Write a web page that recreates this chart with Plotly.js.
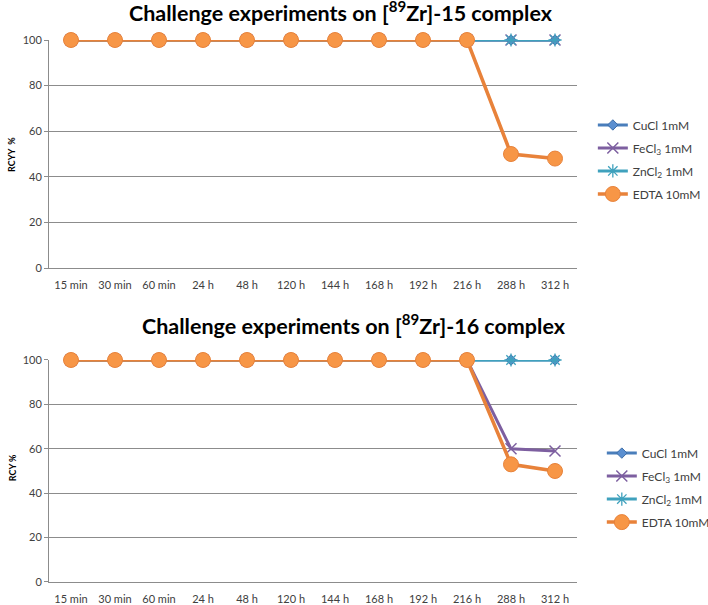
<!DOCTYPE html>
<html>
<head>
<meta charset="utf-8">
<script src="https://cdn.plot.ly/plotly-3.0.1.min.js"></script>
<style>
  html, body { margin: 0; padding: 0; background: #fff; }
  #chart { width: 708px; height: 605px; }
</style>
</head>
<body>
<div id="chart"></div>
<script>
// Sampling times shared by both panels
const timepoints = ['15 min', '30 min', '60 min', '24 h', '48 h', '120 h', '144 h', '168 h', '192 h', '216 h', '288 h', '312 h'];

// Series names
const seriesNames = ['CuCl 1mM', 'FeCl<sub>3</sub> 1mM', 'ZnCl<sub>2</sub> 1mM', 'EDTA 10mM'];

// [89Zr]-15 complex: radiochemical yield (%)
const zr15_CuCl  = [100, 100, 100, 100, 100, 100, 100, 100, 100, 100, 100, 100];
const zr15_FeCl3 = [100, 100, 100, 100, 100, 100, 100, 100, 100, 100, 100, 100];
const zr15_ZnCl2 = [100, 100, 100, 100, 100, 100, 100, 100, 100, 100, 100, 100];
const zr15_EDTA  = [100, 100, 100, 100, 100, 100, 100, 100, 100, 100, 50, 48];

// [89Zr]-16 complex: radiochemical yield (%)
const zr16_CuCl  = [100, 100, 100, 100, 100, 100, 100, 100, 100, 100, 100, 100];
const zr16_FeCl3 = [100, 100, 100, 100, 100, 100, 100, 100, 100, 100, 60, 59];
const zr16_ZnCl2 = [100, 100, 100, 100, 100, 100, 100, 100, 100, 100, 100, 100];
const zr16_EDTA  = [100, 100, 100, 100, 100, 100, 100, 100, 100, 100, 53, 50];

const FONT = 'Lato, "Open Sans", sans-serif';

// Per-series styling (line colour, marker)
const styles = [
  { line: '#4A7EBB', marker: { symbol: 'diamond', size: 8, color: '#5B8FD0', line: { color: '#3C6DA8', width: 1 } } },
  { line: '#7D5FA0', marker: { symbol: 'x-thin', size: 11, color: '#7D5FA0', line: { color: '#7D5FA0', width: 1.5 } } },
  { line: '#3FA1BD', marker: { symbol: 'asterisk', size: 11, color: '#3FA1BD', line: { color: '#3FA1BD', width: 1.3 } } },
  { line: '#E8823A', marker: { symbol: 'circle', size: 15, color: '#F79646', line: { color: '#E8823A', width: 1 } } }
];

function makeTraces(seriesList, xa, ya, legendName) {
  return seriesList.map((vals, i) => ({
    type: 'scatter',
    mode: 'lines+markers',
    x: timepoints,
    y: vals,
    name: seriesNames[i],
    xaxis: xa,
    yaxis: ya,
    legend: legendName,
    legendgroup: legendName + '-' + i,
    cliponaxis: false,
    line: { color: styles[i].line, width: i === 3 ? 3.5 : 3 },
    marker: styles[i].marker
  }));
}

const traces = [
  ...makeTraces([zr15_CuCl, zr15_FeCl3, zr15_ZnCl2, zr15_EDTA], 'x', 'y', 'legend'),
  ...makeTraces([zr16_CuCl, zr16_FeCl3, zr16_ZnCl2, zr16_EDTA], 'x2', 'y2', 'legend2')
];

const xCommon = {
  type: 'category',
  categoryorder: 'array',
  categoryarray: timepoints,
  range: [-0.5, timepoints.length - 0.5],
  showgrid: false,
  showline: true,
  linecolor: '#8c8c8c',
  linewidth: 1,
  ticks: 'outside',
  ticklen: 7,
  tickcolor: 'rgba(0,0,0,0)',
  tickfont: { family: FONT, size: 11, color: '#404040' },
  zeroline: false,
  automargin: false,
  fixedrange: true
};

const yCommon = {
  range: [0, 100],
  dtick: 20,
  showgrid: true,
  gridcolor: '#8c8c8c',
  gridwidth: 1,
  showline: true,
  linecolor: '#8c8c8c',
  linewidth: 1,
  ticks: 'outside',
  ticklen: 4,
  tickcolor: '#8c8c8c',
  tickfont: { family: FONT, size: 11, color: '#404040' },
  zeroline: false,
  automargin: false,
  fixedrange: true
};

const legendCommon = {
  font: { family: FONT, size: 12, color: '#404040' },
  bgcolor: 'rgba(0,0,0,0)',
  borderwidth: 0,
  xanchor: 'left',
  yanchor: 'top',
  itemclick: false,
  tracegroupgap: 4
};

const layout = {
  width: 708,
  height: 605,
  margin: { l: 49, r: 131, t: 40, b: 23, autoexpand: false },
  paper_bgcolor: '#ffffff',
  plot_bgcolor: '#ffffff',
  showlegend: true,
  xaxis: Object.assign({}, xCommon, { anchor: 'y', domain: [0, 1] }),
  yaxis: Object.assign({}, yCommon, { anchor: 'x', domain: [0.5793, 1] }),
  xaxis2: Object.assign({}, xCommon, { anchor: 'y2', domain: [0, 1] }),
  yaxis2: Object.assign({}, yCommon, { anchor: 'x2', domain: [0, 0.4096] }),
  legend: Object.assign({}, legendCommon, { x: 1.030, y: 0.87 }),
  legend2: Object.assign({}, legendCommon, { x: 1.047, y: 0.2646 }),
  annotations: [
    {
      text: '<b>Challenge experiments on [<sup>89</sup>Zr]-15 complex</b>',
      xref: 'paper', yref: 'paper', x: 0.553, y: 1.053,
      xanchor: 'center', yanchor: 'middle', showarrow: false,
      font: { family: FONT, size: 21.5, color: '#000000' }
    },
    {
      text: '<b>Challenge experiments on [<sup>89</sup>Zr]-16 complex</b>',
      xref: 'paper', yref: 'paper', x: 0.578, y: 0.476,
      xanchor: 'center', yanchor: 'middle', showarrow: false,
      font: { family: FONT, size: 21.5, color: '#000000' }
    },
    {
      text: '<b>RCYY  %</b>',
      xref: 'paper', yref: 'paper', x: -0.07, y: 0.788,
      xanchor: 'center', yanchor: 'middle', textangle: -90, showarrow: false,
      font: { family: FONT, size: 9, color: '#000000' }
    },
    {
      text: '<b>RCY %</b>',
      xref: 'paper', yref: 'paper', x: -0.07, y: 0.21,
      xanchor: 'center', yanchor: 'middle', textangle: -90, showarrow: false,
      font: { family: FONT, size: 9, color: '#000000' }
    }
  ]
};

Plotly.newPlot('chart', traces, layout, { displayModeBar: false, staticPlot: true });
</script>
</body>
</html>
